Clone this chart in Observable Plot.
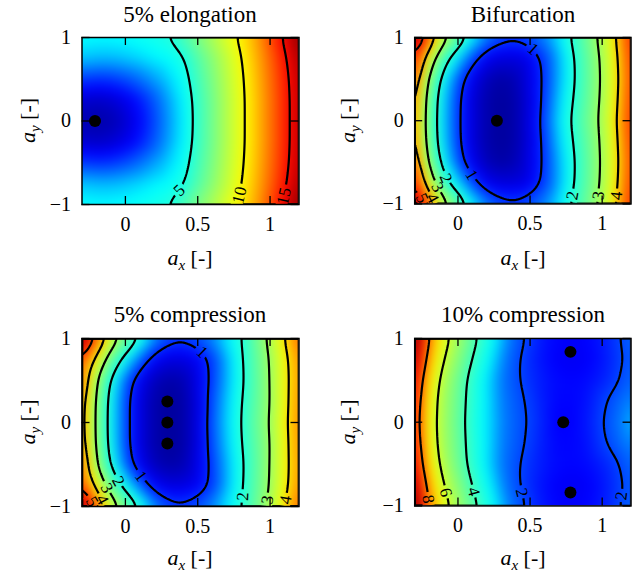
<!DOCTYPE html>
<html><head><meta charset="utf-8">
<script src="https://cdn.jsdelivr.net/npm/d3@7"></script>
<script src="https://cdn.jsdelivr.net/npm/@observablehq/plot@0.6"></script>
<style>
body{margin:0;background:#fff;}
#root{position:relative;width:639px;height:579px;overflow:hidden;background:#fff;}
.panel{position:absolute;}
#overlay{position:absolute;left:0;top:0;pointer-events:none;}
</style></head><body><div id="root"></div>
<script>
// ---------- data ----------
const axValues = [-0.3,-0.2,-0.1,0,0.1,0.2,0.3,0.4,0.5,0.6,0.7,0.8,0.9,1.0,1.1,1.2];
const ayHalf = [0, 0.25, 0.5, 0.75, 1];          // rows below are given for these a_y (mirrored for a_y < 0)
const xTicks = [0, 0.5, 1];
const yTicks = [-1, 0, 1];
const titles = ["5% elongation", "Bifurcation", "5% compression", "10% compression"];

const elongationRows = [
  [-1.5,-1.7,-1.5,-0.9, 0.0, 1.2, 2.6, 4.0, 5.5, 7.0, 8.4, 9.6,11.1,12.7,14.3,16.3],
  [-0.9,-1.1,-0.9,-0.4, 0.4, 1.5, 2.8, 4.1, 5.55,7.0, 8.4, 9.6,11.1,12.7,14.3,16.3],
  [ 1.0, 0.8, 0.9, 1.3, 1.9, 2.7, 3.5, 4.4, 5.8, 7.2, 8.5, 9.7,11.2,12.8,14.4,16.4],
  [ 3.3, 3.1, 3.1, 3.3, 3.6, 4.0, 4.3, 4.8, 6.2, 7.5, 8.7, 9.9,11.4,13.0,14.7,16.7],
  [ 4.3, 4.2, 4.2, 4.3, 4.5, 4.7, 4.95,6.0, 7.2, 8.2, 9.3,10.3,11.7,13.5,15.3,17.3]
];
const bifurcationRows = [
  [4.4, 2.45,1.55,1.04,0.7, 0.5, 0.42,0.5, 0.75,1.1, 1.6, 2.08,2.6, 3.13,4.0, 4.9],
  [4.5, 2.5, 1.58,1.05,0.7, 0.5, 0.43,0.5, 0.74,1.06,1.53,2.0, 2.52,3.08,3.92,4.85],
  [4.75,2.8, 1.75,1.15,0.78,0.56,0.47,0.54,0.76,1.04,1.45,1.93,2.48,3.05,3.87,4.8],
  [5.0, 3.6, 2.2, 1.6, 1.1, 0.8, 0.7, 0.7, 0.8, 1.07,1.45,1.95,2.5, 3.08,3.92,4.85],
  [6.0, 4.6, 3.3, 2.45,1.7, 1.3, 1.12,1.08,1.15,1.32,1.62,2.08,2.62,3.2, 4.05,4.95]
];
const compression5Rows = [
  [4.6, 2.75,1.72,1.1, 0.72,0.5, 0.42,0.48,0.72,1.15,1.55,1.99,2.5, 3.02,3.8, 4.7],
  [4.65,2.78,1.74,1.1, 0.72,0.5, 0.42,0.48,0.72,1.12,1.52,1.96,2.45,2.98,3.75,4.65],
  [4.9, 3.0, 1.9, 1.2, 0.8, 0.57,0.48,0.53,0.75,1.06,1.45,1.9, 2.42,3.0, 3.75,4.6],
  [5.1, 3.8, 2.5, 1.75,1.2, 0.85,0.72,0.72,0.82,1.05,1.45,1.92,2.45,3.02,3.78,4.65],
  [6.1, 4.9, 3.5, 2.6, 1.95,1.35,1.12,1.08,1.15,1.32,1.62,1.95,2.55,3.15,4.0, 4.9]
];
const compression10Rows = [
  [8.9, 6.7, 5.3, 4.4, 3.55,3.0, 2.55,2.2, 1.95,1.62,1.35,1.4, 1.6, 1.98,2.35,2.75],
  [9.0, 6.8, 5.35,4.45,3.6, 3.0, 2.52,2.17,1.9, 1.6, 1.42,1.42,1.55,1.9, 2.22,2.55],
  [9.2, 7.1, 5.55,4.55,3.65,3.0, 2.48,2.08,1.8, 1.58,1.45,1.42,1.48,1.65,1.92,2.3],
  [9.6, 7.6, 6.0, 4.9, 3.95,3.2, 2.6, 2.1, 1.75,1.5, 1.35,1.3, 1.38,1.55,1.85,2.2],
  [10.0,8.0, 6.5, 5.3, 4.3, 3.45,2.8, 2.25,1.85,1.55,1.4, 1.35,1.42,1.6, 1.9, 2.3]
];

const elongationLevels = [5, 10, 15];
const bifurcationLevels = [1, 2, 3, 4, 5];
const compression5Levels = [1, 2, 3, 4, 5];
const compression10Levels = [2, 4, 6, 8];

// value stops for the nine jet colours
const elongationStops = [-2.5, 0, 2.2, 4.2, 7.3, 10, 12.5, 15, 17.5];
const bifurcationStops = [0.3, 0.85, 1.3, 1.7, 2.75, 3.85, 4.4, 5.2, 6.3];
const compression5Stops = [0.3, 0.85, 1.3, 1.7, 2.75, 3.85, 4.7, 5.4, 6.3];
const compression10Stops = [0.3, 1.4, 2.5, 3.1, 4.8, 6.8, 8.0, 8.9, 10.0];

const elongationMinima = [{ax: -0.21, ay: 0}];
const bifurcationMinima = [{ax: 0.27, ay: 0}];
const compression5Minima = [{ax: 0.29, ay: 0.25}, {ax: 0.29, ay: 0}, {ax: 0.29, ay: -0.25}];
const compression10Minima = [{ax: 0.78, ay: 0.84}, {ax: 0.73, ay: 0}, {ax: 0.78, ay: -0.84}];

// contour labels: [level, a_y of the label, which crossing (0 = first from left, -1 = last)]
const elongationLabels = [[5,-0.83,0],[10,-0.89,0],[15,-0.9,0]];
const bifurcationLabels = [[1,0.86,1],[1,-0.65,0],[2,-0.69,0],[3,-0.8,0],[4,-0.93,0],[5,-0.93,0],[2,-0.9,-1],[3,-0.9,-1],[4,-0.9,-1]];
const compression5Labels = [[1,0.84,1],[1,-0.64,0],[2,-0.7,0],[3,-0.78,0],[4,-0.92,0],[5,-0.94,0],[2,-0.88,-1],[3,-0.92,-1],[4,-0.92,-1]];
const compression10Labels = [[8,-0.92,0],[6,-0.84,0],[4,-0.83,0],[2,-0.84,0],[2,-0.88,-1]];

const jet = ["#00007f","#0000ff","#007fff","#00ffff","#7fff7f","#ffff00","#ff7f00","#ff0000","#7f0000"];

// ---------- layout ----------
const FONT = "'Liberation Serif','DejaVu Serif','Noto Serif','Times New Roman',serif";
const panels = [
  {rows: elongationRows, levels: elongationLevels, stops: elongationStops, minima: elongationMinima, labels: elongationLabels},
  {rows: bifurcationRows, levels: bifurcationLevels, stops: bifurcationStops, minima: bifurcationMinima, labels: bifurcationLabels},
  {rows: compression5Rows, levels: compression5Levels, stops: compression5Stops, minima: compression5Minima, labels: compression5Labels},
  {rows: compression10Rows, levels: compression10Levels, stops: compression10Stops, minima: compression10Minima, labels: compression10Labels}
];
const layout = [
  {left: 0,   top: 27,  mL: 81.5, mR: 21.5, fh: 167, titleY: 22,  xlabY: 265},
  {left: 320, top: 27,  mL: 94.5, mR: 8.5,  fh: 167, titleY: 22,  xlabY: 265},
  {left: 0,   top: 328, mL: 81.5, mR: 21.5, fh: 168, titleY: 322, xlabY: 565},
  {left: 320, top: 328, mL: 94.5, mR: 8.5,  fh: 168, titleY: 322, xlabY: 565}
];
const MT = 10, MB = 40, W = 320, LABEL_SIZE = 17;
const ayFull = ayHalf.slice().reverse().concat(ayHalf.slice(1).map(d => -d));
const step = axValues[1] - axValues[0];
const ayStep = ayHalf[1] - ayHalf[0];
const x0 = axValues[0], x1 = axValues[axValues.length - 1];

function fullGrid(rows) { return rows.slice().reverse().concat(rows.slice(1)); }

function bilinear(G, ax, ay) {
  const nc = G[0].length, nr = G.length;
  let c = (ax - x0) / step; c = Math.max(0, Math.min(nc - 1 - 1e-9, c));
  let r = (ayFull[0] - ay) / ayStep; r = Math.max(0, Math.min(nr - 1 - 1e-9, r));
  const c0 = Math.floor(c), r0 = Math.floor(r), fc = c - c0, fr = r - r0;
  return G[r0][c0]*(1-fc)*(1-fr) + G[r0][c0+1]*fc*(1-fr) + G[r0+1][c0]*(1-fc)*fr + G[r0+1][c0+1]*fc*fr;
}

function placeLabels(G, specs, KX, KY) {
  const out = [];
  for (const [v, ay, k] of specs) {
    const xs = []; const d = 0.002;
    let prev = bilinear(G, x0, ay);
    for (let ax = x0 + d; ax <= x1 + 1e-9; ax += d) {
      const cur = bilinear(G, ax, ay);
      if ((prev - v) * (cur - v) <= 0 && prev !== cur) xs.push(ax - d * (cur - v) / (cur - prev));
      prev = cur;
    }
    const x = k < 0 ? xs[xs.length + k] : xs[k];
    if (x === undefined) continue;
    const h = 0.03;
    const gx = (bilinear(G, x + h, ay) - bilinear(G, x - h, ay)) / (2 * h);
    const gy = (bilinear(G, x, ay + h) - bilinear(G, x, ay - h)) / (2 * h);
    let ang = Math.atan2(gx / KX, gy / KY) * 180 / Math.PI;
    if (ang > 90) ang -= 180;
    if (ang < -90) ang += 180;
    out.push({x, y: ay, t: String(v), angle: ang});
  }
  return out;
}

const fmt = d => d < 0 ? "\u2212" + Math.abs(d) : String(d);
const root = document.getElementById("root");
const NS = "http://www.w3.org/2000/svg";

panels.forEach((P, i) => {
  const L = layout[i];
  const G = fullGrid(P.rows);
  const fw = W - L.mL - L.mR;
  const KX = fw / (x1 - x0), KY = L.fh / 2;
  const points = [];
  G.forEach((row, r) => row.forEach((v, c) => points.push({ax: axValues[c], ay: ayFull[r], v})));
  const labs = placeLabels(G, P.labels, KX, KY);
  const tY = 8 / KY, tX = 8 / KX;
  const plot = Plot.plot({
    width: W, height: MT + L.fh + MB,
    marginTop: MT, marginBottom: MB, marginLeft: L.mL, marginRight: L.mR,
    x: {domain: [x0, x1]}, y: {domain: [-1, 1]},
    color: {type: "linear", domain: P.stops, range: jet, clamp: true},
    style: {fontFamily: FONT, fontSize: "20px", background: "transparent", overflow: "visible", color: "black"},
    marks: [
      Plot.raster(points, {x: "ax", y: "ay", fill: "v", interpolate: "barycentric", pixelSize: 1, blur: 5, clip: true}),
      Plot.contour(points, {x: "ax", y: "ay", value: "v", interpolate: "barycentric", pixelSize: 1, blur: 6,
        thresholds: P.levels, stroke: "black", strokeWidth: 2.2, fill: "none", clip: true}),
      Plot.text(labs, {x: "x", y: "y", text: "t", rotate: "angle", fontSize: LABEL_SIZE, fill: "black", fontFamily: FONT}),
      Plot.dot(P.minima, {x: "ax", y: "ay", r: 6, fill: "black"}),
      Plot.ruleX(xTicks, {x: d => d, y1: -1, y2: -1 + tY, stroke: "black", strokeWidth: 1.3}),
      Plot.ruleX(xTicks, {x: d => d, y1: 1, y2: 1 - tY, stroke: "black", strokeWidth: 1.3}),
      Plot.ruleY(yTicks, {y: d => d, x1: x0, x2: x0 + tX, stroke: "black", strokeWidth: 1.3}),
      Plot.ruleY(yTicks, {y: d => d, x1: x1, x2: x1 - tX, stroke: "black", strokeWidth: 1.3}),
      Plot.frame({stroke: "black", strokeWidth: 1.5}),
      Plot.axisX(xTicks, {anchor: "bottom", tickSize: 0, tickPadding: 12, tickFormat: fmt, label: null, fontSize: 20, fontFamily: FONT}),
      Plot.axisY(yTicks, {anchor: "left", tickSize: 0, tickPadding: 11, tickFormat: fmt, label: null, fontSize: 20, fontFamily: FONT})
    ]
  });
  // gaps in the contour lines under the labels
  const g = plot.querySelector('g[aria-label="contour"]');
  if (g) {
    const sx = plot.scale("x"), sy = plot.scale("y");
    const id = "gap" + i;
    const defs = document.createElementNS(NS, "defs");
    const mask = document.createElementNS(NS, "mask");
    mask.setAttribute("id", id);
    mask.setAttribute("maskUnits", "userSpaceOnUse");
    mask.setAttribute("x", -50); mask.setAttribute("y", -50);
    mask.setAttribute("width", W + 100); mask.setAttribute("height", MT + L.fh + MB + 100);
    const bg = document.createElementNS(NS, "rect");
    bg.setAttribute("x", -50); bg.setAttribute("y", -50);
    bg.setAttribute("width", W + 100); bg.setAttribute("height", MT + L.fh + MB + 100);
    bg.setAttribute("fill", "white");
    mask.appendChild(bg);
    labs.forEach(l => {
      const w = LABEL_SIZE * 0.55 * l.t.length + 4, h = 12;
      const r = document.createElementNS(NS, "rect");
      r.setAttribute("x", -w/2); r.setAttribute("y", -h/2);
      r.setAttribute("width", w); r.setAttribute("height", h);
      r.setAttribute("fill", "black");
      r.setAttribute("transform", `translate(${sx.apply(l.x)},${sy.apply(l.y)}) rotate(${l.angle})`);
      mask.appendChild(r);
    });
    defs.appendChild(mask);
    plot.insertBefore(defs, plot.firstChild);
    g.setAttribute("mask", `url(#${id})`);
  }
  const div = document.createElement("div");
  div.className = "panel";
  div.style.left = L.left + "px"; div.style.top = L.top + "px";
  div.appendChild(plot);
  root.appendChild(div);
});

// ---------- titles and axis labels ----------
const ov = document.createElementNS(NS, "svg");
ov.setAttribute("id", "overlay");
ov.setAttribute("width", 639); ov.setAttribute("height", 579);
ov.setAttribute("font-family", FONT);
function addText(attrs, parts) {
  const t = document.createElementNS(NS, "text");
  for (const k in attrs) t.setAttribute(k, attrs[k]);
  parts.forEach(p => {
    const s = document.createElementNS(NS, "tspan");
    for (const k in p.a || {}) s.setAttribute(k, p.a[k]);
    s.textContent = p.t;
    t.appendChild(s);
  });
  ov.appendChild(t);
}
layout.forEach((L, i) => {
  const cx = L.left + L.mL + (W - L.mL - L.mR) / 2;
  const cy = L.top + MT + L.fh / 2;
  addText({x: cx, y: L.titleY, "text-anchor": "middle", "font-size": 23, fill: "black"}, [{t: titles[i]}]);
  addText({x: cx, y: L.xlabY, "text-anchor": "middle", "font-size": 22, fill: "black"}, [
    {t: "a", a: {"font-style": "italic"}},
    {t: "x", a: {"font-style": "italic", "font-size": 15, dy: 5}},
    {t: " [-]", a: {dy: -5}}
  ]);
  addText({transform: `translate(${L.left + 35},${cy}) rotate(-90)`, "text-anchor": "middle", "font-size": 22, fill: "black"}, [
    {t: "a", a: {"font-style": "italic"}},
    {t: "y", a: {"font-style": "italic", "font-size": 15, dy: 5}},
    {t: " [-]", a: {dy: -5}}
  ]);
});
root.appendChild(ov);
</script></body></html>
